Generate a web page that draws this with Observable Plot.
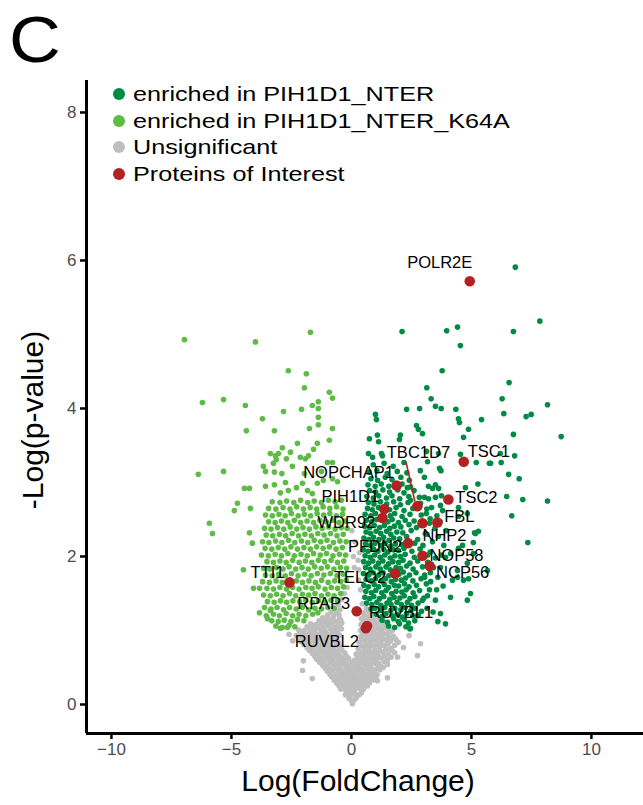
<!DOCTYPE html>
<html>
<head>
<meta charset="utf-8">
<script src="https://cdn.jsdelivr.net/npm/d3@7"></script>
<script src="https://cdn.jsdelivr.net/npm/@observablehq/plot@0.6"></script>
<style>
html, body { margin: 0; padding: 0; background: #fff; overflow: hidden; }
#wrap { position: relative; width: 643px; height: 805px; overflow: hidden; font-family: "Liberation Sans", Arial, Helvetica, sans-serif; color: #000; }
#chart svg { position: absolute; left: 0; top: 0; max-width: none; }
.panel { position: absolute; left: 9px; top: 8px; font-size: 64px; line-height: 64px; transform: scaleX(1.12); transform-origin: left top; }
.legend { position: absolute; left: 113px; top: 81px; }
.legend .row { display: flex; align-items: center; height: 26.5px; }
.legend .sw { width: 12px; height: 12px; border-radius: 50%; flex: none; }
.legend .lab { margin-left: 8px; font-size: 21px; line-height: 26.5px; white-space: nowrap; transform: scaleX(1.2); transform-origin: left center; }
.xtitle { position: absolute; left: 358px; top: 766px; font-size: 30px; line-height: 30px; transform: translateX(-50%); white-space: nowrap; }
.ytitle { position: absolute; left: 33px; top: 420px; font-size: 30px; line-height: 30px; transform: translate(-50%, -50%) rotate(-90deg); white-space: nowrap; }
</style>
</head>
<body>
<div id="wrap">
  <div id="chart"></div>
  <div class="panel">C</div>
  <div class="legend" id="legend"></div>
  <div class="xtitle">Log(FoldChange)</div>
  <div class="ytitle">-Log(p-value)</div>
</div>
<script>
// ---------------- data ----------------
const xTicks = [-10, -5, 0, 5, 10];
const yTicks = [0, 2, 4, 6, 8];
const xDomain = [-11.04, 12.17];
const yDomain = [-0.392, 8.432];

const legendLabels = ["enriched in PIH1D1_NTER", "enriched in PIH1D1_NTER_K64A", "Unsignificant", "Proteins of Interest"];

// [log fold change, -log p-value]
const enrichedNTER = [
[6.83,5.91],[7.85,5.18],[6.75,5.04],[6.57,4.35],[6.28,4.13],[6.35,3.93],[8.17,4.05],[7.28,3.89],[7.49,3.92],[6.75,3.65],[8.74,3.62],[6.8,3.36],[6.24,3.27],[5.8,3.26],[6.55,3.11],[6.99,3.05],[6.47,2.81],[7.14,2.77],[8.17,2.75],[6.68,2.55],[7.35,2.19],
[3.97,5.05],[4.42,5.1],[4.54,4.85],[2.11,5.04],[3.78,4.51],[3.14,4.28],[3.32,4.13],[2.3,3.99],[2.84,4.0],[3.5,4.03],[3.74,4.0],[4.35,3.99],[4.46,3.86],[4.5,3.81],[5.42,3.85],[2.71,3.77],[2.79,3.72],[2.96,3.66],[4.88,3.72],[4.67,3.61],
[1.0,3.92],[1.04,3.85],[0.75,3.59],[1.08,3.64],[1.13,3.55],[2.04,3.64],[2.0,3.58],[0.71,3.39],[0.88,3.34],[1.25,3.39],[1.29,3.36],[3.13,3.42],[3.17,3.28],[3.63,3.39],[3.67,3.19],[4.54,3.38],
[5.2,3.27],[5.75,3.26],[6.2,3.39],[2.87,3.16],[3.04,3.07],[3.73,3.16],[5.27,2.98],[4.75,2.93],[3.21,2.95],[3.38,2.92],[3.63,2.92],[3.5,2.97],[3.5,2.8],[3.75,2.82],[3.04,2.8],[2.83,2.8],[2.33,2.93],[2.46,2.76],[3.21,2.78],[3.71,2.69],
[4.46,2.66],[4.46,2.54],[5.13,2.32],[5.29,2.34],[4.83,2.58],[5.08,2.19],[5.17,2.31],[5.08,2.04],[4.83,1.91],[4.88,1.7],[4.42,1.72],[4.21,1.68],[3.92,1.99],[4.13,2.04],[4.46,2.11],[4.63,2.15],[5.67,1.81],[3.92,1.09],[2.46,1.03],[3.17,1.47],[2.96,1.41],[3.5,1.41],[3.71,1.23],[2.75,1.2],[3.29,1.78],[3.71,1.85],[4.42,1.81],[4.67,1.68],[4.96,1.5],[4.83,1.41],[4.13,1.45],
[3.12,2.58],[3.34,2.66],[3.56,2.55],[3.8,2.62],[3.25,2.45],[3.48,2.38],[3.7,2.47],[3.95,2.35],[3.15,2.3],[3.38,2.2],[3.62,2.27],[3.85,2.15],[3.28,2.06],[3.5,1.98],[3.75,2.02],[3.18,1.92],[3.42,1.85],[3.6,1.72],[3.3,1.66],[3.55,1.55],[3.82,1.6],[3.25,1.55],[3.05,1.72],[3.15,1.3],[3.4,1.25],[3.6,1.12],
[1.55,1.06],[1.8,1.04],[2.0,1.09],[2.27,1.05],[2.44,1.02],
[1.28,1.14],[1.5,1.11],[1.76,1.16],[1.95,1.12],[2.2,1.15],[2.38,1.1],[2.64,1.13],
[1.03,1.22],[1.27,1.19],[1.44,1.23],[1.69,1.2],[1.9,1.22],[2.12,1.18],[2.3,1.23],[2.55,1.2],[2.78,1.21],
[0.82,1.29],[0.98,1.3],[1.22,1.27],[1.39,1.31],[1.64,1.27],[1.81,1.3],[2.06,1.28],[2.24,1.31],[2.48,1.27],[2.66,1.3],[2.92,1.26],
[0.63,1.37],[0.85,1.35],[1.06,1.38],[1.23,1.34],[1.48,1.37],[1.65,1.35],[1.9,1.38],[2.08,1.35],[2.33,1.38],[2.5,1.34],[2.78,1.37],
[0.56,1.45],[0.76,1.43],[0.93,1.46],[1.17,1.43],[1.35,1.46],[1.6,1.42],[1.78,1.45],[2.02,1.44],[2.2,1.47],[2.44,1.43],[2.64,1.46],[3.02,1.44],
[0.6,1.53],[0.83,1.51],[1.01,1.54],[1.26,1.51],[1.44,1.54],[1.68,1.5],[1.86,1.53],[2.1,1.52],[2.28,1.55],[2.57,1.51],[2.84,1.54],
[0.52,1.61],[0.71,1.59],[0.95,1.62],[1.13,1.59],[1.37,1.62],[1.55,1.58],[1.79,1.61],[1.97,1.6],[2.21,1.63],[2.4,1.59],[2.71,1.61],[3.12,1.63],
[0.61,1.69],[0.82,1.67],[1.0,1.7],[1.24,1.67],[1.42,1.7],[1.66,1.66],[1.84,1.69],[2.08,1.68],[2.26,1.71],[2.56,1.67],[2.9,1.7],
[0.5,1.77],[0.72,1.75],[0.9,1.78],[1.14,1.75],[1.32,1.78],[1.56,1.74],[1.74,1.77],[1.98,1.76],[2.16,1.79],[2.42,1.75],[2.69,1.78],[3.05,1.75],
[0.59,1.85],[0.78,1.83],[1.02,1.86],[1.2,1.83],[1.44,1.86],[1.62,1.82],[1.86,1.85],[2.04,1.84],[2.3,1.87],[2.57,1.83],[2.96,1.86],
[0.51,1.93],[0.71,1.91],[0.89,1.94],[1.13,1.91],[1.31,1.94],[1.55,1.9],[1.73,1.93],[1.97,1.92],[2.15,1.95],[2.44,1.91],[2.76,1.94],
[0.57,2.01],[0.78,1.99],[0.97,2.02],[1.2,1.99],[1.39,2.02],[1.62,1.98],[1.81,2.01],[2.04,2.0],[2.24,2.03],[2.62,1.99],[3.18,2.02],
[0.5,2.09],[0.69,2.07],[0.92,2.1],[1.1,2.07],[1.34,2.1],[1.52,2.06],[1.76,2.09],[1.96,2.08],[2.19,2.11],[2.52,2.07],[2.86,2.1],
[0.59,2.17],[0.8,2.15],[0.98,2.18],[1.22,2.15],[1.4,2.18],[1.64,2.14],[1.83,2.17],[2.1,2.16],[2.64,2.18],[2.98,2.15],
[0.52,2.25],[0.73,2.23],[0.92,2.26],[1.15,2.23],[1.34,2.26],[1.57,2.22],[1.76,2.25],[2.01,2.24],[2.3,2.27],[2.76,2.23],
[0.61,2.33],[0.8,2.31],[1.03,2.34],[1.22,2.31],[1.46,2.34],[1.64,2.3],[1.89,2.33],[2.14,2.32],[2.49,2.35],[3.08,2.31],
[0.55,2.41],[0.76,2.39],[0.95,2.42],[1.18,2.39],[1.37,2.42],[1.6,2.38],[1.79,2.41],[2.06,2.4],[2.4,2.43],[2.71,2.39],
[0.62,2.49],[0.84,2.47],[1.05,2.5],[1.52,2.47],[1.7,2.5],[1.96,2.46],[2.24,2.49],[2.61,2.48],[3.28,2.51],
[0.57,2.57],[0.81,2.55],[1.0,2.58],[1.62,2.55],[1.8,2.58],[2.11,2.54],[2.44,2.57],[2.91,2.56],
[0.67,2.65],[0.87,2.63],[1.13,2.66],[1.59,2.63],[1.86,2.66],[2.19,2.62],[2.56,2.65],[3.14,2.64],
[0.71,2.73],[0.94,2.71],[1.21,2.74],[1.47,2.71],[1.76,2.74],[2.04,2.7],[2.36,2.73],[2.88,2.72],
[0.64,2.81],[0.91,2.79],[1.14,2.82],[1.46,2.79],[1.69,2.82],[2.01,2.78],[2.39,2.81],
[0.76,2.89],[1.01,2.87],[1.31,2.9],[1.59,2.87],[1.93,2.9],[2.19,2.86],[2.61,2.89],
[0.69,2.97],[0.99,2.95],[1.24,2.98],[1.56,2.95],[2.11,2.98],[2.46,2.94],
[0.81,3.05],[1.09,3.03],[1.41,3.07],[1.69,3.04],[2.06,3.07],[2.41,3.03],
[0.74,3.14],[1.06,3.16],[1.49,3.12],[1.91,3.15],[2.31,3.13],
[0.91,3.24],[1.36,3.26],[1.74,3.22],[2.19,3.27]
];

const enrichedK64A = [
[-6.96,4.93],[-4.0,4.9],[-1.71,5.03],[-2.63,4.51],[-1.88,4.47],[-1.96,4.28],[-0.92,4.22],[-0.79,4.14],[-6.21,4.08],[-5.33,4.12],[-4.42,4.04],[-3.71,3.86],[-2.83,3.96],[-2.08,3.99],[-1.63,4.04],[-1.38,4.09],[-1.38,4.0],[-1.38,3.88],[-1.38,3.78],[-1.75,3.73],[-0.79,3.73],[-4.38,3.7],[-3.21,3.7],[-0.92,3.57],[-2.25,3.53],[-2.88,3.47],[-1.58,3.45],[-1.42,3.53],[-3.38,3.39],[-3.17,3.36],[-3.04,3.39],[-2.71,3.32],[-2.54,3.41],[-2.13,3.34],[-1.92,3.32],[-1.79,3.36],[-3.13,3.31],[-3.25,3.26],[-3.67,3.22],[-3.58,3.15],[-3.21,3.14],[-2.46,3.22],[-6.38,3.11],[-5.33,3.15],[-1.0,3.27],[-0.79,3.27],[-4.46,2.92],[-4.25,2.92],[-5.92,2.45],[-5.79,2.31],[-4.75,2.72],[-4.88,2.62],[-4.21,2.65],[-4.25,2.32],[-4.13,2.18],[-4.5,1.82],[-4.08,1.57],[-3.83,1.57],[-3.83,1.24],[-3.5,1.16],[-3.38,1.27],[-2.96,1.03],[-2.67,1.04],
[-3.58,2.95],[-3.21,2.97],[-2.96,2.86],[-2.75,3.0],[-2.63,2.89],[-2.29,2.93],[-2.04,2.99],[-1.83,2.89],[-1.63,2.85],[-1.42,2.99],[-1.17,3.03],[-0.79,3.05],[-0.58,3.01],[-1.96,3.12],[-1.25,3.15],[-2.9,3.12],
[-3.15,1.06],[-2.88,1.04],[-2.6,1.07],[-2.36,1.05],
[-3.32,1.13],[-3.05,1.12],[-2.8,1.14],[-2.52,1.12],[-2.25,1.15],[-1.98,1.13],
[-3.55,1.2],[-3.25,1.22],[-3.0,1.2],[-2.72,1.23],[-2.45,1.2],[-2.18,1.22],[-1.9,1.2],[-1.62,1.22],[-1.4,1.24],
[-3.62,1.31],[-3.35,1.29],[-3.1,1.31],[-2.83,1.28],[-2.58,1.31],[-2.3,1.29],[-2.05,1.31],[-1.78,1.28],[-1.52,1.3],[-1.25,1.29],[-0.98,1.31],[-0.72,1.3],
[-3.5,1.39],[-3.22,1.38],[-2.96,1.4],[-2.7,1.38],[-2.44,1.4],[-2.16,1.39],[-1.9,1.41],[-1.63,1.38],[-1.38,1.4],[-1.1,1.38],[-0.85,1.41],[-0.58,1.4],
[-3.66,1.48],[-3.38,1.47],[-3.12,1.49],[-2.85,1.47],[-2.58,1.5],[-2.32,1.47],[-2.04,1.49],[-1.78,1.48],[-1.52,1.5],[-1.25,1.47],[-0.98,1.49],[-0.72,1.47],[-0.45,1.5],
[-3.52,1.57],[-3.25,1.56],[-2.98,1.58],[-2.7,1.56],[-2.45,1.58],[-2.18,1.56],[-1.9,1.58],[-1.64,1.57],[-1.38,1.59],[-1.1,1.56],[-0.84,1.58],[-0.58,1.57],[-0.33,1.59],
[-3.7,1.66],[-3.42,1.65],[-3.14,1.67],[-2.88,1.65],[-2.3,1.67],[-2.04,1.65],[-1.77,1.67],[-1.5,1.65],[-1.24,1.68],[-0.97,1.65],[-0.7,1.67],[-0.45,1.66],[-0.22,1.68],
[-3.58,1.75],[-3.3,1.74],[-3.03,1.76],[-2.76,1.74],[-2.5,1.77],[-2.22,1.74],[-1.95,1.76],[-1.68,1.74],[-1.42,1.77],[-1.15,1.75],[-0.88,1.77],[-0.6,1.74],[-0.34,1.76],
[-3.66,1.84],[-3.4,1.83],[-3.12,1.85],[-2.85,1.83],[-2.6,1.86],[-2.32,1.83],[-2.06,1.85],[-1.8,1.83],[-1.53,1.86],[-1.26,1.84],[-1.0,1.86],[-0.73,1.83],[-0.46,1.85],[-0.2,1.84],
[-3.52,1.93],[-3.25,1.92],[-2.98,1.94],[-2.72,1.92],[-2.45,1.95],[-2.18,1.92],[-1.92,1.94],[-1.65,1.92],[-1.38,1.95],[-1.12,1.93],[-0.85,1.95],[-0.58,1.92],[-0.32,1.94],
[-3.75,2.02],[-3.46,2.01],[-3.18,2.03],[-2.92,2.01],[-2.65,2.04],[-2.38,2.01],[-2.1,2.03],[-1.84,2.01],[-1.58,2.04],[-1.3,2.02],[-1.04,2.04],[-0.77,2.01],[-0.5,2.03],[-0.24,2.02],
[-3.6,2.11],[-3.32,2.1],[-3.05,2.12],[-2.78,2.1],[-2.52,2.13],[-2.25,2.1],[-1.98,2.12],[-1.71,2.1],[-1.45,2.13],[-1.18,2.11],[-0.92,2.13],[-0.64,2.1],[-0.38,2.12],
[-3.7,2.2],[-3.44,2.19],[-3.16,2.21],[-2.9,2.19],[-2.62,2.22],[-2.36,2.19],[-2.08,2.21],[-1.82,2.19],[-1.55,2.22],[-1.28,2.2],[-1.02,2.22],[-0.75,2.19],[-0.48,2.21],[-0.22,2.2],
[-3.55,2.29],[-3.28,2.28],[-3.0,2.3],[-2.74,2.28],[-2.47,2.31],[-2.2,2.28],[-1.94,2.3],[-1.67,2.28],[-1.4,2.31],[-1.14,2.29],[-0.87,2.31],[-0.6,2.28],[-0.34,2.3],
[-3.62,2.38],[-3.35,2.37],[-3.08,2.39],[-2.82,2.37],[-2.55,2.4],[-2.28,2.37],[-2.02,2.39],[-1.75,2.37],[-1.48,2.4],[-1.22,2.38],[-0.95,2.4],[-0.68,2.37],[-0.42,2.39],[-0.18,2.38],
[-3.45,2.47],[-3.18,2.46],[-2.92,2.48],[-2.65,2.46],[-2.38,2.49],[-2.12,2.46],[-1.85,2.48],[-1.58,2.46],[-1.32,2.49],[-1.05,2.47],[-0.78,2.49],[-0.52,2.46],[-0.26,2.48],
[-3.58,2.56],[-3.3,2.55],[-3.02,2.57],[-2.76,2.55],[-2.5,2.58],[-2.22,2.55],[-1.96,2.57],[-1.7,2.55],[-1.43,2.58],[-1.16,2.56],[-0.9,2.58],[-0.63,2.55],[-0.37,2.57],
[-3.45,2.65],[-3.15,2.64],[-2.85,2.66],[-2.56,2.64],[-2.28,2.67],[-2.0,2.64],[-1.72,2.66],[-1.45,2.64],[-1.18,2.67],[-0.9,2.65],[-0.62,2.67],[-0.35,2.64],
[-3.3,2.74],[-2.98,2.73],[-2.7,2.75],[-2.4,2.73],[-2.12,2.76],[-1.82,2.73],[-1.55,2.75],[-1.25,2.73],[-0.96,2.76],[-0.68,2.74],[-0.42,2.76]
];

const unsignificant = [
[0.04,0.01],[0.0,0.05],[0.12,0.06],[-0.1,0.08],[0.2,0.09],
[-0.25,0.13],[-0.05,0.12],[0.15,0.14],[0.32,0.13],[-0.12,0.16],[0.05,0.16],[0.42,0.16],
[-0.45,0.21],[-0.25,0.2],[-0.05,0.22],[0.14,0.2],[0.33,0.22],[0.5,0.21],
[-0.52,0.25],[-0.32,0.24],[-0.12,0.25],[0.08,0.24],[0.28,0.25],[0.47,0.24],[0.66,0.25],
[-0.62,0.29],[-0.42,0.28],[-0.22,0.3],[-0.02,0.28],[0.18,0.3],[0.38,0.28],[0.58,0.3],[0.75,0.29],
[-0.72,0.33],[-0.5,0.32],[-0.3,0.33],[-0.1,0.32],[0.1,0.33],[0.3,0.32],[0.5,0.33],[0.7,0.32],[0.9,0.33],
[-0.82,0.37],[-0.6,0.36],[-0.4,0.38],[-0.2,0.36],[0.0,0.38],[0.2,0.36],[0.4,0.38],[0.6,0.37],[0.8,0.38],[0.98,0.36],
[-0.9,0.41],[-0.68,0.4],[-0.46,0.41],[-0.25,0.4],[-0.04,0.41],[0.19,0.4],[0.41,0.41],[0.63,0.4],[0.85,0.41],[1.07,0.4],
[-1.0,0.45],[-0.78,0.44],[-0.56,0.46],[-0.35,0.44],[-0.14,0.46],[0.08,0.44],[0.3,0.46],[0.52,0.44],[0.74,0.46],[0.96,0.45],[1.18,0.47],
[-1.1,0.49],[-0.88,0.48],[-0.66,0.49],[-0.44,0.48],[-0.22,0.49],[0.0,0.48],[0.22,0.49],[0.44,0.48],[0.66,0.49],[0.88,0.48],[1.1,0.49],[1.32,0.5],
[-1.2,0.53],[-0.98,0.52],[-0.76,0.54],[-0.54,0.52],[-0.32,0.54],[-0.1,0.52],[0.12,0.54],[0.34,0.52],[0.56,0.54],[0.78,0.53],[1.0,0.55],[1.22,0.52],[1.5,0.54],
[-1.33,0.57],[-1.1,0.56],[-0.88,0.57],[-0.66,0.56],[-0.44,0.57],[-0.22,0.56],[0.02,0.57],[0.24,0.56],[0.46,0.57],[0.68,0.56],[0.9,0.57],[1.12,0.56],[1.36,0.58],
[-1.45,0.61],[-1.22,0.6],[-1.0,0.62],[-0.78,0.6],[-0.56,0.62],[-0.34,0.6],[-0.12,0.62],[0.14,0.6],[0.36,0.62],[0.58,0.6],[0.8,0.62],[1.02,0.61],[1.25,0.63],[1.5,0.6],[2.75,0.66],
[-1.52,0.65],[-1.3,0.64],[-1.08,0.65],[-0.86,0.64],[-0.64,0.65],[-0.42,0.64],[-0.2,0.65],[0.3,0.64],[0.52,0.65],[0.74,0.64],[0.96,0.65],[1.18,0.64],[1.4,0.66],[1.65,0.64],
[-1.62,0.69],[-1.4,0.68],[-1.18,0.7],[-0.96,0.68],[-0.74,0.7],[-0.52,0.68],[-0.28,0.7],[0.2,0.68],[0.42,0.7],[0.64,0.68],[0.86,0.7],[1.08,0.69],[1.3,0.71],[1.55,0.68],[1.8,0.7],
[-1.75,0.73],[-1.52,0.72],[-1.3,0.73],[-1.08,0.72],[-0.86,0.73],[-0.62,0.72],[-0.4,0.74],[0.32,0.72],[0.54,0.73],[0.76,0.72],[0.98,0.73],[1.2,0.72],[1.44,0.74],[1.7,0.73],
[-1.85,0.77],[-1.62,0.76],[-1.4,0.78],[-1.18,0.76],[-0.96,0.78],[-0.74,0.76],[-0.5,0.78],[0.28,0.76],[0.5,0.78],[0.72,0.76],[0.94,0.78],[1.16,0.77],[1.38,0.79],[1.62,0.76],[2.17,0.77],
[-1.98,0.81],[-1.75,0.8],[-1.52,0.81],[-1.3,0.8],[-1.08,0.81],[-0.86,0.8],[-0.62,0.82],[0.4,0.8],[0.62,0.81],[0.84,0.8],[1.06,0.81],[1.3,0.8],[1.52,0.82],[1.8,0.8],
[-2.1,0.85],[-1.88,0.84],[-1.66,0.86],[-1.44,0.84],[-1.22,0.86],[-1.0,0.84],[-0.78,0.86],[-0.55,0.84],[0.32,0.84],[0.55,0.86],[0.78,0.84],[1.0,0.86],[1.22,0.85],[1.45,0.87],[1.63,0.86],[1.95,0.84],[2.88,0.82],
[-2.2,0.89],[-1.96,0.88],[-1.74,0.89],[-1.52,0.88],[-1.3,0.89],[-1.08,0.88],[-0.84,0.9],[-0.62,0.88],[0.44,0.88],[0.66,0.89],[0.9,0.88],[1.12,0.89],[1.36,0.88],[1.58,0.9],[1.85,0.88],
[-2.3,0.93],[-2.06,0.92],[-1.84,0.94],[-1.62,0.92],[-1.4,0.94],[-1.18,0.92],[-0.96,0.94],[-0.72,0.92],[-0.5,0.94],[0.4,0.92],[0.62,0.94],[0.84,0.92],[1.06,0.94],[1.28,0.93],[1.5,0.95],[1.75,0.92],[2.4,0.93],
[-2.15,0.97],[-1.93,0.96],[-1.7,0.97],[-1.48,0.96],[-1.26,0.97],[-1.04,0.96],[-0.8,0.98],[-0.56,0.96],[0.5,0.96],[0.72,0.97],[0.95,0.96],[1.16,0.97],[1.38,0.96],[1.6,0.98],
[-2.2,1.01],[-1.98,1.0],[-1.76,1.02],[-1.54,1.0],[-1.32,1.02],[-1.1,1.0],[-0.88,1.02],[-0.64,1.0],[-0.42,1.02],[0.38,1.0],[0.6,1.02],[0.82,1.0],[1.04,1.02],[1.26,1.01],[1.48,1.03],[1.7,1.0],
[-1.85,1.05],[-1.62,1.04],[-1.4,1.05],[-1.18,1.04],[-0.95,1.06],[-0.72,1.04],[-0.5,1.05],[0.48,1.04],[0.95,1.05],[1.17,1.04],[1.4,1.05],
[-1.7,1.09],[-1.48,1.08],[-1.26,1.1],[-1.04,1.08],[-0.82,1.1],[-0.58,1.08],[-0.4,1.1],[0.4,1.08],[0.85,1.1],[1.06,1.08],[1.28,1.1],[1.5,1.08],
[-1.35,1.13],[-1.12,1.12],[-0.9,1.13],[-0.66,1.12],[-0.45,1.14],[0.5,1.12],[0.75,1.13],[0.97,1.12],[1.2,1.13],
[-1.2,1.17],[-0.98,1.16],[-0.76,1.18],[-0.5,1.16],[0.42,1.16],[0.64,1.18],[0.86,1.16],[1.08,1.18],
[-1.0,1.21],[-0.75,1.2],[-0.52,1.21],[0.55,1.2],[0.8,1.21],
[-0.85,1.25],[-0.62,1.24],[0.48,1.24],[0.7,1.26],[0.62,1.3],[-0.7,1.3],[-0.48,1.28],
[-0.55,1.35],[-0.4,1.42],[0.45,1.36],[0.55,1.45],
[-0.3,1.5],[-0.18,1.58],[0.38,1.55],[0.3,1.68],[0.3,1.82],[0.28,1.95],[0.34,2.05],[0.08,2.0],[0.15,2.2],[0.02,2.35],[0.12,1.85],
[-2.6,0.95],[-2.45,0.86],[1.5,0.36],[1.92,0.64],[1.08,0.32],[-1.63,0.35],[-2.0,0.59],[-2.04,0.46]
];

const interestNames = ["POLR2E","TSC1","TBC1D7","NOPCHAP1","TSC2","PIH1D1","WDR92","FBL","NHP2","PFDN2","NOP58","NCP56","TELO2","TTI1","RPAP3","RUVBL1","RUVBL2"];
const interestFC = [4.93, 4.68, 2.75, 1.88, 4.04, 1.37, 1.29, 3.58, 2.96, 2.36, 2.96, 3.26, 1.82, -2.58, 0.22, 0.65, 0.6];
const interestP  = [5.72, 3.28, 2.68, 2.96, 2.77, 2.64, 2.52, 2.46, 2.45, 2.18, 2.01, 1.87, 1.77, 1.65, 1.26, 1.06, 1.03];

// ---------------- presentation ----------------
const colors = {nter: "#008B45", k64a: "#5DBB46", unsig: "#BEBEBE", interest: "#B22222"};
// label offsets in pixels from each point (repelled labels)
const labelOffset = {
  POLR2E: [-30, -18], TSC1: [25, -10], TBC1D7: [1, -53], NOPCHAP1: [-48, -13], TSC2: [28, -2],
  PIH1D1: [-34, -12], WDR92: [-36, 5], FBL: [22, -6], NHP2: [22, 13], PFDN2: [-33, 4],
  NOP58: [34, 0], NCP56: [33, 7], TELO2: [-35, 4], TTI1: [-22, -10], RPAP3: [-33, -8],
  RUVBL1: [34, -13], RUVBL2: [-39, 13]
};

const toRows = (pts) => pts.map(([fc, p]) => ({fc, p}));
const interest = interestNames.map((name, i) => ({name, fc: interestFC[i], p: interestP[i]}));

const connector = (index, scales) => {
  const g = d3.create("svg:g");
  const d = interest.find(v => v.name === "TBC1D7");
  const cx = scales.x(d.fc), cy = scales.y(d.p);
  g.append("line")
    .attr("x1", cx - 11).attr("y1", cy - 44)
    .attr("x2", cx - 2).attr("y2", cy - 4)
    .attr("stroke", colors.interest).attr("stroke-width", 1.6);
  return g.node();
};

const chart = Plot.plot({
  width: 643,
  height: 805,
  marginLeft: 86,
  marginRight: 0,
  marginTop: 80,
  marginBottom: 72,
  style: {fontFamily: "'Liberation Sans', Arial, Helvetica, sans-serif", background: "white", overflow: "visible"},
  x: {domain: xDomain},
  y: {domain: yDomain},
  marks: [
    Plot.dot(toRows(unsignificant), {x: "fc", y: "p", r: 2.8, fill: colors.unsig}),
    Plot.dot(toRows(enrichedK64A), {x: "fc", y: "p", r: 2.8, fill: colors.k64a}),
    Plot.dot(toRows(enrichedNTER), {x: "fc", y: "p", r: 2.8, fill: colors.nter}),
    connector,
    Plot.dot(interest, {x: "fc", y: "p", r: 5.3, fill: colors.interest}),
    ...interest.map(d => Plot.text([d], {
      x: "fc", y: "p", text: "name",
      dx: labelOffset[d.name][0], dy: labelOffset[d.name][1],
      fontSize: 16.5, fill: "black"
    })),
    Plot.ruleX([xDomain[0]], {stroke: "black", strokeWidth: 3}),
    Plot.ruleY([yDomain[0]], {stroke: "black", strokeWidth: 3}),
    Plot.axisX({ticks: xTicks, tickSize: 6, tickPadding: 3, fontSize: 17, label: null, strokeWidth: 2.5, stroke: "black"}),
    Plot.axisY({ticks: yTicks, tickSize: 6, tickPadding: 4, fontSize: 17, label: null, strokeWidth: 2.5, stroke: "black"})
  ]
});
chart.style.maxWidth = "none";
document.getElementById("chart").append(chart);
d3.select(chart).selectAll('g[aria-label="x-axis tick label"], g[aria-label="y-axis tick label"]').attr("fill", "#4D4D4D");

// legend (overlaid inside the panel, as in the original)
const legendColors = [colors.nter, colors.k64a, colors.unsig, colors.interest];
const leg = d3.select("#legend");
legendLabels.forEach((t, i) => {
  const row = leg.append("div").attr("class", "row");
  row.append("div").attr("class", "sw").style("background", legendColors[i]);
  row.append("div").attr("class", "lab").text(t);
});
</script>
</body>
</html>
